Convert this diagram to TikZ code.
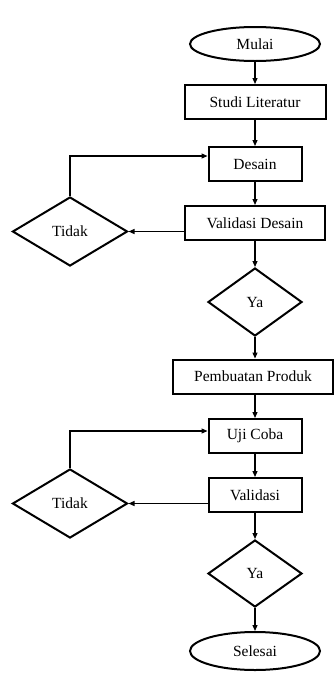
\documentclass[tikz,border=0pt]{standalone}
\usepackage{fontspec}
\setmainfont{Liberation Serif}
\usetikzlibrary{shapes.geometric,arrows.meta}
\begin{document}
\begin{tikzpicture}[x=1pt,y=-1pt,
  every node/.style={font=\fontsize{15.5}{18}\selectfont},
  boxnode/.style={draw,line width=2pt,minimum height=34pt,inner sep=0pt},
  ovalnode/.style={draw,ellipse,line width=2pt,minimum width=130pt,minimum height=34pt,inner sep=0pt},
  decnode/.style={draw,diamond,line width=2pt,inner sep=0pt},
  arr/.style={line width=1.2pt,-{Triangle[length=6pt,width=5pt]}}
]
\useasboundingbox (0,0) rectangle (335,675);

\node[ovalnode] (mulai) at (255,44) {Mulai};
\node[boxnode,minimum width=141pt] (studi) at (255,102) {Studi Literatur};
\node[boxnode,minimum width=93pt] (desain) at (255,164) {Desain};
\node[boxnode,minimum width=140pt] (vd) at (255,223) {Validasi Desain};
\node[decnode,minimum width=115pt,minimum height=69pt] (t1) at (70,231.5) {Tidak};
\node[decnode,minimum width=94pt,minimum height=68pt] (ya1) at (255,302) {Ya};
\node[boxnode,minimum width=160pt] (pp) at (253,376.5) {Pembuatan Produk};
\node[boxnode,minimum width=93pt] (uji) at (255,436) {Uji Coba};
\node[boxnode,minimum width=93pt] (val) at (255,495) {Validasi};
\node[decnode,minimum width=115pt,minimum height=69pt] (t2) at (70,503.5) {Tidak};
\node[decnode,minimum width=94pt,minimum height=67pt] (ya2) at (255,573.5) {Ya};
\node[ovalnode,minimum height=38pt] (sel) at (255,651) {Selesai};

\draw[arr] (mulai) -- (studi);
\draw[arr] (studi) -- (desain);
\draw[arr] (desain) -- (vd);
\draw[arr] (vd.west |- t1.east) -- (t1.east);
\draw[arr] (t1.north) |- ([yshift=8pt]desain.west);
\draw[arr] (vd) -- (ya1);
\draw[arr] (ya1.south) -- (ya1.south |- pp.north);
\draw[arr] (uji.north |- pp.south) -- (uji.north);
\draw[arr] (uji) -- (val);
\draw[arr] (val.west |- t2.east) -- (t2.east);
\draw[arr] (t2.north) |- ([yshift=5pt]uji.west);
\draw[arr] (val) -- (ya2);
\draw[arr] (ya2) -- (sel);
\end{tikzpicture}
\end{document}
